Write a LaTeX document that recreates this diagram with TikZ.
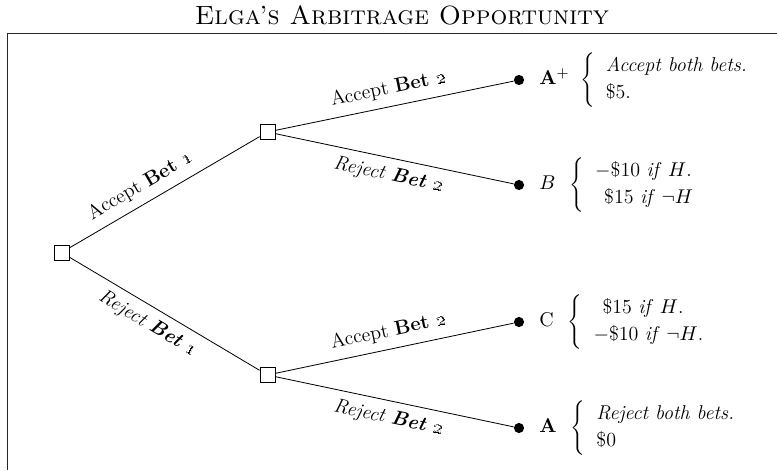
\documentclass[tikz,border=0pt]{standalone}
\usetikzlibrary{positioning}
\newcommand{\osn}[1]{\oldstylenums{#1}}
\tikzset{
  bodyfont/.style={font=\fontsize{11}{13.5}\selectfont},
  titlefont/.style={font=\fontsize{14.5}{17}\selectfont\scshape},
  decision/.style={draw, line width=0.45pt, minimum size=8.25pt, inner sep=0pt, fill=white},
  chance/.style={circle, fill=black, minimum size=5.6pt, inner sep=0pt},
  branch/.style={line width=0.45pt},
  blabel/.style={bodyfont, sloped, inner sep=4.5pt},
  leaf/.style={bodyfont, anchor=west, inner sep=0pt},
  frameline/.style={line width=0.55pt, draw=black!85}
}
\renewcommand{\arraystretch}{1.1}
\begin{document}
\begin{tikzpicture}[x=0.55pt, y=-0.55pt]
\useasboundingbox (0,0) rectangle (777,470);
\node[titlefont] (title) at (402,15) {Elga's Arbitrage Opportunity};
\coordinate (fbl) at (7,470);
\coordinate (ftl) at (7,33);
\coordinate (ftr) at (777,33);
\draw[frameline] (fbl) -- (ftl) -- (ftr);

\node[decision] (root) at (61.5,252.5) {};
\node[decision] (up) at (267.5,132) {};
\node[decision] (lo) at (267.5,375) {};
\node[chance] (d1) at (519,80) {};
\node[chance] (d2) at (519,185) {};
\node[chance] (d3) at (519,322) {};
\node[chance] (d4) at (519,428) {};

\draw[branch] (root) -- node[blabel, above, pos=0.42] {Accept \textbf{Bet \osn{1}}} (up);
\draw[branch] (root) -- node[blabel, below, pos=0.46] {\emph{Reject \textbf{Bet \osn{1}}}} (lo);
\draw[branch] (up) -- node[blabel, above, pos=0.49] {Accept \textbf{Bet \osn{2}}} (d1);
\draw[branch] (up) -- node[blabel, below, pos=0.49] {\emph{Reject \textbf{Bet \osn{2}}}} (d2);
\draw[branch] (lo) -- node[blabel, above, pos=0.49] {Accept \textbf{Bet \osn{2}}} (d3);
\draw[branch] (lo) -- node[blabel, below, pos=0.49] {\emph{Reject \textbf{Bet \osn{2}}}} (d4);

\node[leaf] (l1) at (539,80) {$\mathbf{A}^{+}\hspace{4pt}\left\{\begin{tabular}{l}\emph{Accept both bets.}\\ \$5.\end{tabular}\right.$};
\node[leaf] (l2) at (539,185) {$B\hspace{6pt}\left\{\begin{tabular}{l}$-$\$10 \emph{if} $H$.\\ \hspace{0.45em}\$15 \emph{if} $\neg H$\end{tabular}\right.$};
\node[leaf] (l3) at (539,322) {$\mathrm{C}\hspace{6pt}\left\{\begin{tabular}{l}\hspace{0.45em}\$15 \emph{if} $H$.\\ $-$\$10 \emph{if} $\neg H$.\end{tabular}\right.$};
\node[leaf] (l4) at (539,428) {$\mathbf{A}\hspace{6pt}\left\{\begin{tabular}{l}\emph{Reject both bets.}\\ \$0\end{tabular}\right.$};
\end{tikzpicture}
\end{document}
